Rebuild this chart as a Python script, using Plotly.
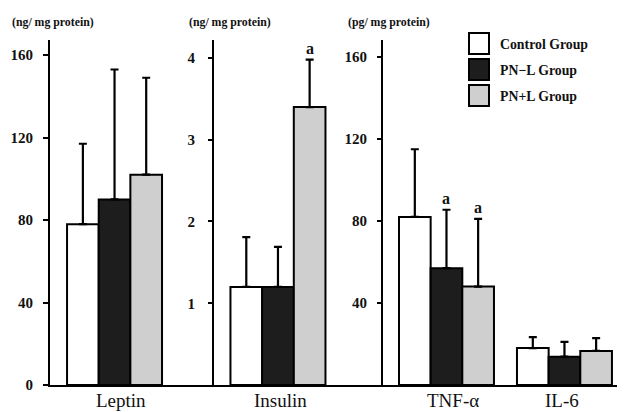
import plotly.graph_objects as go

# ---------------- data ----------------
group_names = ["Control Group", "PN\u2212L Group", "PN+L Group"]
leptin_cats = ["Leptin"]
insulin_cats = ["Insulin"]
cyto_cats = ["TNF-\u03b1", "IL-6"]

leptin_means = [78, 90, 102]
leptin_sd = [39, 63, 47]
insulin_means = [1.2, 1.2, 3.4]
insulin_sd = [0.61, 0.49, 0.58]
tnf_means = [82, 57, 48]
tnf_sd = [33, 28.5, 33]
il6_means = [18, 13.8, 16.6]
il6_sd = [5.4, 7.2, 6.3]

units = ["(ng/ mg protein)", "(ng/ mg protein)", "(pg/ mg protein)"]
leptin_ticks = [0, 40, 80, 120, 160]
insulin_ticks = [1, 2, 3, 4]
cyto_ticks = [40, 80, 120, 160]

fills = ["#ffffff", "#1d1d1d", "#cfcfcf"]

# page body has an 8px margin, so the figure is drawn 8px smaller and
# all reference pixel positions are shifted by OFF
OFF = 8
W, H = 625 - OFF, 412 - OFF
MB = 27
MT = 40 - OFF
ML, MR = 0, 0
PH = H - MT - MB

def px_x(p):
    return (p - OFF) / W

def px_y(p):
    return (H - MB - (p - OFF)) / PH

SERIF = "Liberation Serif"

fig = go.Figure()

panel_data = [
    ("x", "y", leptin_cats, [[leptin_means[i]] for i in range(3)], [[leptin_sd[i]] for i in range(3)]),
    ("x2", "y2", insulin_cats, [[insulin_means[i]] for i in range(3)], [[insulin_sd[i]] for i in range(3)]),
    ("x3", "y3", cyto_cats, [[tnf_means[i], il6_means[i]] for i in range(3)],
     [[tnf_sd[i], il6_sd[i]] for i in range(3)]),
]

for xa, ya, cats, means, sds in panel_data:
    for g in range(3):
        fig.add_trace(go.Bar(
            x=cats, y=means[g], name=group_names[g], xaxis=xa, yaxis=ya,
            marker=dict(color=fills[g], line=dict(color="black", width=2)),
            error_y=dict(type="data", symmetric=False, array=sds[g],
                         arrayminus=[0] * len(cats), color="black",
                         thickness=2.2, width=4),
            showlegend=False,
        ))

axis_common = dict(showline=True, linecolor="black", linewidth=2, showgrid=False,
                   zeroline=False, automargin=False)
ytick_font = dict(size=15, family=SERIF, color="#111", weight="bold")

fig.update_layout(
    template="none",
    width=W, height=H,
    margin=dict(l=ML, r=MR, t=MT, b=MB),
    paper_bgcolor="white", plot_bgcolor="white",
    barmode="group", bargap=0.195, bargroupgap=0,
    showlegend=False,
    font=dict(family=SERIF, color="#111111"),
    xaxis=dict(domain=[px_x(50), px_x(214)], range=[-0.547, 0.843], anchor="y",
               ticks="", showticklabels=False, **axis_common),
    xaxis2=dict(domain=[px_x(214), px_x(383)], range=[-0.542, 0.890], anchor="y2",
                ticks="", showticklabels=False, **axis_common),
    xaxis3=dict(domain=[px_x(383), 1.0], range=[-0.538, 1.513], anchor="y3",
                ticks="", showticklabels=False, **axis_common),
    yaxis=dict(domain=[0, 1], range=[0, 167.3], anchor="x", tickvals=leptin_ticks,
               ticks="outside", ticklen=5, tickwidth=2, tickcolor="black",
               ticklabelstandoff=7, tickfont=ytick_font, **axis_common),
    yaxis2=dict(domain=[0, 1], range=[0, 4.22], anchor="x2", tickvals=insulin_ticks,
                ticks="outside", ticklen=4, tickwidth=2, tickcolor="black",
                ticklabelstandoff=10, tickfont=ytick_font, **axis_common),
    yaxis3=dict(domain=[0, 1], range=[0, 168.3], anchor="x3", tickvals=cyto_ticks,
                ticks="outside", ticklen=4, tickwidth=2, tickcolor="black",
                ticklabelstandoff=7, tickfont=ytick_font, **axis_common),
)

annotations = []
# category labels under the bar groups
cat_labels = leptin_cats + insulin_cats + cyto_cats
cat_centers = [121, 280, 453, 562]
for lab, cx in zip(cat_labels, cat_centers):
    annotations.append(dict(text=lab, xref="paper", yref="paper",
                            x=px_x(cx), y=px_y(400), xanchor="center", yanchor="middle",
                            showarrow=False, font=dict(size=19, family=SERIF, color="#111")))

# unit labels
for u, xl in zip(units, [10, 187, 346]):
    annotations.append(dict(text="<b>" + u + "</b>", xref="paper", yref="paper",
                            x=px_x(xl), y=px_y(22), xanchor="left", yanchor="middle",
                            showarrow=False, font=dict(size=11.8, family=SERIF, color="#111")))

# significance marks
bar_w = (1 - 0.195) / 3
sig = [
    ("x2", "y2", bar_w, insulin_means[2] + insulin_sd[2]),
    ("x3", "y3", 0, tnf_means[1] + tnf_sd[1]),
    ("x3", "y3", bar_w, tnf_means[2] + tnf_sd[2]),
]
for xa, ya, xv, yv in sig:
    annotations.append(dict(text="<b>a</b>", xref=xa, yref=ya, x=xv, y=yv,
                            xanchor="center", yanchor="bottom", yshift=1,
                            showarrow=False, font=dict(size=16, family=SERIF, color="#111")))

# legend
shapes = []
box_tops = [33, 59, 85]
for g in range(3):
    t = box_tops[g]
    shapes.append(dict(type="rect", xref="paper", yref="paper",
                       x0=px_x(469), x1=px_x(489), y0=px_y(t + 21), y1=px_y(t),
                       fillcolor=fills[g], line=dict(color="black", width=2)))
    annotations.append(dict(text="<b>" + group_names[g] + "</b>", xref="paper", yref="paper",
                            x=px_x(498), y=px_y(t + 11), xanchor="left", yanchor="middle",
                            showarrow=False, font=dict(size=13.8, family=SERIF, color="#111")))

fig.update_layout(annotations=annotations, shapes=shapes)

fig.write_html("out.html")
